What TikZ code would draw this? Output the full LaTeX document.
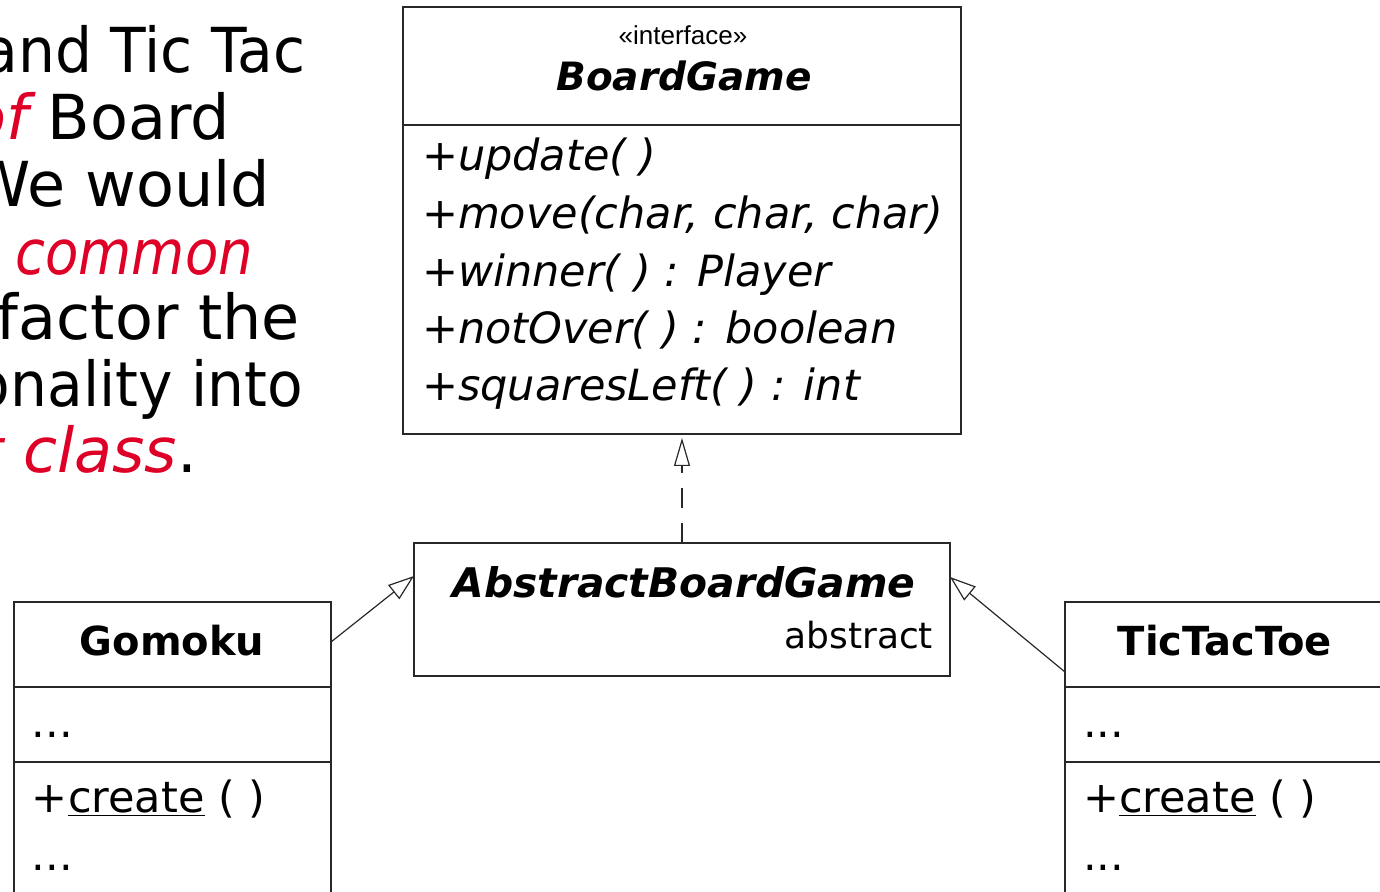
\documentclass[tikz,border=0pt]{standalone}
\usepackage{fontspec}
\setmainfont{DejaVu Sans}
\newfontfamily\stereofont{Liberation Sans}
\usetikzlibrary{arrows.meta,calc}
\definecolor{accent}{RGB}{222,0,38}
\definecolor{ink}{RGB}{40,40,40}
\newcommand{\fsz}[1]{\fontsize{#1}{1.2\dimexpr#1pt\relax}\selectfont}
\newcommand{\narrow}{\addfontfeature{FakeStretch=0.88}}
\newcommand{\slim}{\addfontfeature{FakeStretch=0.94}}
\tikzset{
  every node/.style={inner sep=0pt, outer sep=0pt},
  umlbox/.style={draw=ink, line width=0.8pt, anchor=north west, inner sep=0pt},
  divider/.style={draw=ink, line width=0.8pt},
  prose/.style={anchor=base east, font=\fsz{31}},
  member/.style={anchor=base west, font=\fsz{21.5}\itshape},
  field/.style={anchor=base west, font=\fsz{21.5}},
  classname/.style={anchor=base, font=\fsz{20}\bfseries},
  realize/.style={draw=ink, line width=0.6pt, dash pattern=on 10pt off 7.5pt,
    -{Triangle[open, length=14pt, width=8pt]}},
  inherit/.style={draw=ink, line width=0.6pt,
    -{Triangle[open, length=13pt, width=9pt]}}
}
\begin{document}
\begin{tikzpicture}[x=0.5pt,y=-0.5pt]
\clip (0,0) rectangle (1380,892);
\useasboundingbox (0,0) rectangle (1380,892);

% explanatory text on the left
\node[prose] (l1) at (305,73)  {\slim and Tic Tac};
\node[prose] (l2) at (230,140) {\textcolor{accent}{\itshape of} Board};
\node[prose] (l3) at (270,207) {We would};
\node[prose] (l4) at (253,275) {\textcolor{accent}{\itshape\narrow common}};
\node[prose] (l5) at (300,340) {factor the};
\node[prose] (l6) at (303,407) {\slim onality into};
\node[prose] (l7) at (197,473) {\textcolor{accent}{\itshape t class}.};

% interface BoardGame
\node[umlbox, minimum width=279pt, minimum height=213.5pt] (bg) at (403,7) {};
\draw[divider] (403,125) -- (961,125);
\node[anchor=base, font=\stereofont\fsz{13}] (stereo) at (683,45) {«interface»};
\node[classname, font=\fsz{19.5}\bfseries\itshape] (bgname) at (684,91) {BoardGame};
\node[member] (m1) at (422,171) {+update( )};
\node[member] (m2) at (422,229) {+move(char, char, char)};
\node[member] (m3) at (422,287) {+winner( ) : Player};
\node[member] (m4) at (422,344) {+notOver( ) : boolean};
\node[member] (m5) at (422,401) {+squaresLeft( ) : int};

% abstract class AbstractBoardGame
\node[umlbox, minimum width=268pt, minimum height=66.5pt] (abg) at (414,543) {};
\node[classname, font=\fsz{20.4}\bfseries\itshape] (abgname) at (684,597) {AbstractBoardGame};
\node[anchor=base east, font=\fsz{18}] (abgtag) at (933,648) {abstract};

% class Gomoku
\node[umlbox, minimum width=158.5pt, minimum height=180pt] (gom) at (14,602) {};
\draw[divider] (14,687) -- (331,687);
\draw[divider] (14,762) -- (331,762);
\node[classname] (gomname) at (172,655) {Gomoku};
\node[field] (gf) at (32,737) {...};
\node[field] (gc) at (32,812) {+\underline{create} ( )};
\node[field] (gm) at (32,870) {...};

% class TicTacToe
\node[umlbox, minimum width=180pt, minimum height=180pt] (ttt) at (1065,602) {};
\draw[divider] (1065,687) -- (1400,687);
\draw[divider] (1065,762) -- (1400,762);
\node[classname] (tttname) at (1225,655) {TicTacToe};
\node[field] (tf) at (1083,737) {...};
\node[field] (tc) at (1083,812) {+\underline{create} ( )};
\node[field] (tm) at (1083,870) {...};

% relationships
\draw[realize, shorten >=2pt] (abg.north) -- (bg.south);
\coordinate (gomout) at ($(gom.north east)+(0,40)$);
\coordinate (abgin)  at ($(abg.north west)+(0,33)$);
\draw[inherit] (gomout) -- (abgin);
\coordinate (tttout) at ($(ttt.north west)+(0,70)$);
\coordinate (abgin2) at ($(abg.north east)+(0,34)$);
\draw[inherit] (tttout) -- (abgin2);
\end{tikzpicture}
\end{document}
